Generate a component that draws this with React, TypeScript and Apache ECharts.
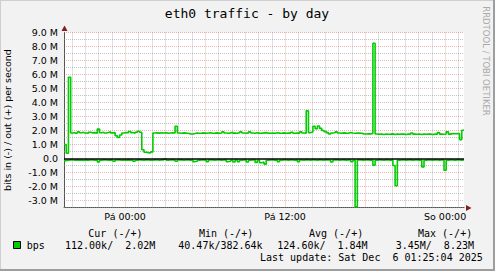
import React, { useEffect, useRef } from 'react';
import * as echarts from 'echarts';

// ---- texts ----
const TITLE = 'eth0 traffic - by day';
const Y_NAME = 'bits in (-) / out (+) per second';
const WATERMARK = 'RRDTOOL / TOBI OETIKER';
const LEGEND_NAME = 'bps';
const legendHeaders = ['Cur (-/+)', 'Min (-/+)', 'Avg (-/+)', 'Max (-/+)'];
const legendValues = ['112.00k/  2.02M', '40.47k/382.64k', '124.60k/  1.84M', '3.45M/  8.23M'];
const LAST_UPDATE = 'Last update: Sat Dec  6 01:25:04 2025';

// ---- time axis (hours relative to Fri 00:00) ----
const END_HOUR = 25 + 25 / 60 + 4 / 3600; // Sat 01:25:04
const SPAN_HOURS = 30;
const STEP_HOURS = 10 / 60;
const xLabelHours = [0, 12, 24];
const xLabelTexts = ['Pá 00:00', 'Pá 12:00', 'So 00:00'];
const gridHours = [-4, -3, -2, -1, 0, 1, 2, 3, 4, 5, 6, 7, 8, 9, 10, 11, 12, 13, 14, 15, 16, 17, 18, 19, 20, 21, 22, 23, 24, 25];
const majorEveryHours = 6;

// ---- value axis (M bits/s) ----
const Y_MIN = -3.5;
const Y_MAX = 9.0;
const yMajor = [-3, -2, -1, 0, 1, 2, 3, 4, 5, 6, 7, 8, 9];
const yMinor = [-3.5, -2.5, -1.5, -0.5, 0.5, 1.5, 2.5, 3.5, 4.5, 5.5, 6.5, 7.5, 8.5];

// ---- data: 10-minute steps, Mbit/s ----
const outValues = [
  1.0, 0.38, 5.8,
  1.82, 1.86, 1.80, 1.90, 1.84, 1.88, 1.82, 1.80, 1.87, 1.83, 1.85, 1.81,
  2.1,
  1.84, 1.88, 1.82, 1.86, 1.90, 1.83, 1.85,
  1.62, 1.50, 1.68,
  1.82, 1.86, 1.84, 1.93, 1.85, 1.80, 1.88, 1.95, 1.87,
  0.62, 0.45, 0.42, 0.40, 0.47,
  1.82, 1.83, 1.81, 1.84, 1.82, 1.83, 1.80, 1.82, 1.84, 1.82,
  2.3,
  1.82, 1.80, 1.83, 1.81, 1.80, 1.76, 1.75, 1.78, 1.82, 1.80,
  1.81, 1.83, 1.80, 1.82, 1.84, 1.80, 1.81, 1.83, 1.80, 1.82,
  1.90, 1.82, 1.80, 1.83, 1.88, 1.81, 1.80, 1.84, 1.90, 1.82,
  1.80, 1.83, 1.90, 1.82, 1.80, 1.84, 1.81, 1.80, 1.83, 1.85, 1.81, 1.80,
  1.82, 1.80, 1.84, 1.81, 1.80, 1.83, 1.80, 1.82, 1.81, 1.88, 1.80, 1.82, 1.81, 1.90, 1.82, 1.80,
  3.4,
  1.85, 1.90,
  2.30, 2.12, 2.32, 2.15,
  2.00, 1.92, 1.85, 1.75, 1.82, 1.84, 1.90, 1.82, 1.80, 1.83,
  1.81, 1.80, 1.85, 1.82, 1.80, 1.81, 1.82, 1.80, 1.76, 1.75,
  1.77, 1.76, 1.78,
  8.23,
  1.75, 1.73, 1.74, 1.72, 1.75, 1.73, 1.74, 1.76, 1.72, 1.74,
  1.73, 1.75, 1.74, 1.72, 1.74, 1.73, 1.82, 1.74, 1.73, 1.75,
  1.72, 1.74, 1.73, 1.75, 1.74, 1.72, 1.74, 1.73, 1.85, 1.74,
  1.73, 1.75, 1.90, 1.74, 1.78, 1.77, 1.78, 1.76,
  1.35, 2.02,
];

const inValues = [
  -0.15, -0.12, -0.10, -0.11, -0.13, -0.10, -0.12, -0.11, -0.14, -0.10,
  -0.12, -0.11, -0.10, -0.13, -0.11, -0.24, -0.12, -0.10, -0.11, -0.13,
  -0.10, -0.12, -0.20, -0.11, -0.10, -0.12, -0.11, -0.13, -0.10, -0.12,
  -0.11, -0.20, -0.12, -0.10, -0.11, -0.12, -0.10, -0.11, -0.13, -0.12,
  -0.10, -0.11, -0.12, -0.10, -0.11, -0.04, -0.12, -0.11, -0.10, -0.12,
  -0.20, -0.11, -0.10, -0.12, -0.11, -0.10, -0.12, -0.11, -0.22, -0.20,
  -0.12, -0.11, -0.10, -0.12, -0.22, -0.11, -0.10, -0.12, -0.11, -0.10,
  -0.12, -0.11, -0.10, -0.22, -0.20, -0.12, -0.25, -0.11, -0.22, -0.12,
  -0.11, -0.10, -0.25, -0.12, -0.11, -0.10, -0.28, -0.12, -0.30, -0.26,
  -0.40, -0.12, -0.11, -0.10, -0.12, -0.11, -0.22, -0.12, -0.10, -0.11,
  -0.12, -0.10, -0.11, -0.12, -0.10, -0.22, -0.11, -0.12, -0.10, -0.11,
  -0.12, -0.10, -0.11, -0.12, -0.10, -0.11, -0.12, -0.10, -0.11, -0.12,
  -0.25, -0.11, -0.10, -0.12, -0.11, -0.10, -0.12, -0.11, -0.10, -0.22,
  -0.12, -3.45, -0.11, -0.10, -0.12, -0.11, -0.10, -0.12, -0.11, -0.48,
  -0.12, -0.10, -0.11, -0.12, -0.10, -0.11, -0.12, -0.10, -0.50, -1.95,
  -0.12, -0.11, -0.10, -0.12, -0.11, -0.10, -0.12, -0.11, -0.10, -0.12,
  -0.11, -0.60, -0.12, -0.10, -0.11, -0.12, -0.10, -0.11, -0.12, -0.10,
  -0.11, -0.84, -0.12, -0.10, -0.11, -0.12, -0.10, -0.11, -0.12, -0.112,
];

// ---- styles ----
const GREEN = '#00cc00';
const BG = '#f2f2f2';
const MINOR_GRID = 'rgba(143,143,143,0.55)';
const MAJOR_GRID = 'rgba(222,79,79,0.42)';
const ARROW = '#801f1f';
const AXIS = '#555555';
const SANS = '"DejaVu Sans", sans-serif';
const MONO = '"DejaVu Sans Mono", monospace';

const W = 495;
const H = 271;
const PLOT_LEFT = 64;
const PLOT_TOP = 32.5;
const PLOT_W = 400;
const PLOT_H = 175;

function toSeries(values: number[]): [number, number][] {
  const start = END_HOUR - SPAN_HOURS;
  const pts: [number, number][] = values.map((v, i) => [start + i * STEP_HOURS, v]);
  pts.push([END_HOUR, values[values.length - 1]]);
  return pts;
}

const nb = (s: string) => s.replace(/ /g, '\u00a0');

export default function App() {
  const ref = useRef<HTMLDivElement>(null);

  useEffect(() => {
    document.body.style.margin = '0';
    if (!ref.current) return;
    const chart = echarts.init(ref.current, undefined, { renderer: 'svg' });

    const dotted = (color: string) => ({ color, type: [1, 1], dashOffset: 0, width: 1, cap: 'butt' });
    const gridLines: any[] = [];
    gridHours.forEach((h) => {
      gridLines.push({ xAxis: h, lineStyle: dotted(h % majorEveryHours === 0 ? MAJOR_GRID : MINOR_GRID) });
    });
    yMinor.forEach((v) => {
      gridLines.push({ yAxis: v, lineStyle: dotted(MINOR_GRID) });
    });
    yMajor.forEach((v) => {
      if (v === 0) return;
      gridLines.push({ yAxis: v, lineStyle: dotted(MAJOR_GRID) });
    });

    const plotRight = PLOT_LEFT + PLOT_W;
    const plotBottom = Math.round(PLOT_TOP + PLOT_H);

    const legendX = [88.3, 199, 309, 418];
    const valueX = [65, 178.3, 277.3, 395.7];

    const graphic: any[] = [
      { type: 'rect', z: 100, shape: { x: 0, y: 0, width: W, height: 1 }, style: { fill: '#cfcfcf' } },
      { type: 'rect', z: 100, shape: { x: 0, y: 0, width: 1, height: H }, style: { fill: '#cfcfcf' } },
      { type: 'rect', z: 100, shape: { x: 0, y: H - 2, width: W, height: 2 }, style: { fill: '#9e9e9e' } },
      { type: 'rect', z: 100, shape: { x: W - 2, y: 0, width: 2, height: H }, style: { fill: '#9e9e9e' } },
      {
        type: 'text', z: 100, x: 247, y: 13.5,
        style: { text: TITLE, font: `13px ${MONO}`, fill: '#000', textAlign: 'center', textVerticalAlign: 'middle' },
      },
      {
        type: 'text', z: 100, x: 485.5, y: 61, rotation: -Math.PI / 2,
        style: { text: WATERMARK, font: `8.5px ${SANS}`, fill: '#aaaaaa', textAlign: 'center', textVerticalAlign: 'middle' },
      },
      {
        type: 'polygon', z: 100,
        shape: { points: [[PLOT_LEFT - 2.5, 31], [PLOT_LEFT + 3.5, 31], [PLOT_LEFT + 0.5, 25.5]] },
        style: { fill: ARROW },
      },
      {
        type: 'polygon', z: 100,
        shape: { points: [[plotRight + 2, plotBottom - 3], [plotRight + 2, plotBottom + 3], [plotRight + 7.5, plotBottom]] },
        style: { fill: ARROW },
      },
      {
        type: 'rect', z: 100, shape: { x: 13.5, y: 241.5, width: 7, height: 7 },
        style: { fill: GREEN, stroke: '#000', lineWidth: 1 },
      },
      {
        type: 'text', z: 100, x: 26.7, y: 245.7,
        style: { text: LEGEND_NAME, font: `10px ${MONO}`, fill: '#000', textAlign: 'left', textVerticalAlign: 'middle' },
      },
      {
        type: 'text', z: 100, x: 260, y: 257.7,
        style: { text: nb(LAST_UPDATE), font: `10px ${MONO}`, fill: '#000', textAlign: 'left', textVerticalAlign: 'middle' },
      },
    ];
    legendHeaders.forEach((t, i) => {
      graphic.push({
        type: 'text', z: 100, x: legendX[i], y: 233.3,
        style: { text: nb(t), font: `10px ${MONO}`, fill: '#000', textAlign: 'left', textVerticalAlign: 'middle' },
      });
    });
    legendValues.forEach((t, i) => {
      graphic.push({
        type: 'text', z: 100, x: valueX[i], y: 245.7,
        style: { text: nb(t), font: `10px ${MONO}`, fill: '#000', textAlign: 'left', textVerticalAlign: 'middle' },
      });
    });

    const option: any = {
      animation: false,
      backgroundColor: BG,
      grid: {
        left: PLOT_LEFT, top: PLOT_TOP, width: PLOT_W, height: PLOT_H,
        show: true, backgroundColor: '#ffffff', borderWidth: 0,
        containLabel: false,
        outerBoundsMode: 'none',
      },
      xAxis: {
        type: 'value',
        min: END_HOUR - SPAN_HOURS,
        max: END_HOUR,
        axisLine: { show: true, onZero: false, lineStyle: { color: AXIS, width: 1 } },
        axisTick: { show: false },
        splitLine: { show: false },
        axisLabel: {
          customValues: xLabelHours,
          formatter: (v: number) => {
            const idx = xLabelHours.findIndex((h) => Math.abs(h - v) < 1e-6);
            return idx >= 0 ? xLabelTexts[idx] : '';
          },
          color: '#000', fontFamily: SANS, fontSize: 9.5, margin: 4,
        },
      },
      yAxis: {
        type: 'value',
        min: Y_MIN,
        max: Y_MAX,
        interval: 0.5,
        name: Y_NAME,
        nameLocation: 'middle',
        nameGap: 52,
        nameTextStyle: { color: '#000', fontFamily: SANS, fontSize: 9.5 },
        axisLine: { show: true, onZero: false, lineStyle: { color: AXIS, width: 1 } },
        axisTick: { show: false },
        splitLine: { show: false },
        axisLabel: {
          formatter: (v: number) => {
            if (Math.abs(v - Math.round(v)) > 1e-6) return '';
            const r = Math.round(v);
            return r === 0 ? '0.0' : r.toFixed(1) + ' M';
          },
          color: '#000', fontFamily: SANS, fontSize: 9.5, margin: 6,
        },
      },
      series: [
        {
          name: 'out',
          type: 'line',
          data: toSeries(outValues),
          step: 'end',
          showSymbol: false,
          symbol: 'none',
          lineStyle: { color: GREEN, width: 1.6 },
          z: 3,
          markLine: {
            silent: true,
            z: 1,
            symbol: ['none', 'none'],
            label: { show: false },
            emphasis: { disabled: true },
            data: gridLines,
          },
        },
        {
          name: 'in',
          type: 'line',
          data: toSeries(inValues),
          step: 'end',
          showSymbol: false,
          symbol: 'none',
          lineStyle: { color: GREEN, width: 1.6 },
          z: 3,
          markLine: {
            silent: true,
            z: 4,
            symbol: ['none', 'none'],
            label: { show: false },
            emphasis: { disabled: true },
            data: [{ yAxis: 0, lineStyle: { color: '#000', type: 'solid', width: 1.5 } }],
          },
        },
      ],
      graphic,
    };

    chart.setOption(option);
    return () => chart.dispose();
  }, []);

  return <div ref={ref} style={{ width: W, height: H }} />;
}
